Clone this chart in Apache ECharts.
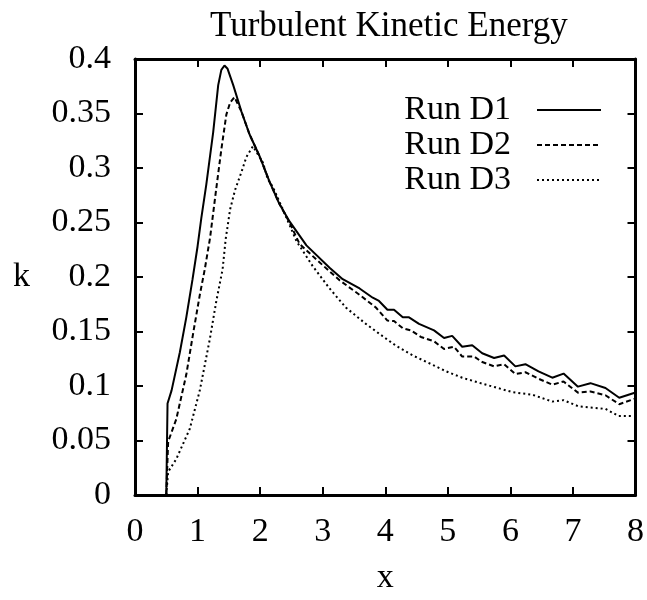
<!DOCTYPE html>
<html>
<head>
<meta charset="utf-8">
<script src="https://cdn.jsdelivr.net/npm/echarts@6/dist/echarts.min.js"></script>
<style>html,body{margin:0;padding:0;background:#fff;}#c{width:647px;height:600px;}</style>
</head>
<body>
<div id="c"></div>
<script>
const titleText = 'Turbulent Kinetic Energy';
const seriesNames = ['Run D1', 'Run D2', 'Run D3'];

const xD1 = [0.5, 0.52, 0.585, 0.717, 0.82, 0.92, 1.00, 1.06, 1.14, 1.25, 1.33, 1.38, 1.43, 1.48, 1.57, 1.70, 1.83, 1.99, 2.15, 2.30, 2.47, 2.74, 3.11, 3.32, 3.59, 3.80, 3.90, 4.035, 4.14, 4.28, 4.38, 4.54, 4.78, 4.94, 5.07, 5.23, 5.39, 5.55, 5.74, 5.90, 6.08, 6.24, 6.45, 6.67, 6.85, 7.08, 7.28, 7.52, 7.74, 8.0];
const yD1 = [0, 0.084, 0.096, 0.131, 0.163, 0.198, 0.228, 0.254, 0.285, 0.333, 0.376, 0.390, 0.394, 0.391, 0.376, 0.352, 0.331, 0.311, 0.2875, 0.268, 0.251, 0.229, 0.2085, 0.198, 0.1895, 0.181, 0.178, 0.170, 0.170, 0.163, 0.163, 0.157, 0.151, 0.144, 0.146, 0.136, 0.1374, 0.130, 0.1257, 0.128, 0.118, 0.120, 0.1135, 0.1076, 0.1114, 0.0994, 0.1026, 0.0982, 0.0892, 0.094];

const xD2 = [0.5, 0.53, 0.66, 0.82, 0.93, 1.036, 1.115, 1.20, 1.30, 1.38, 1.46, 1.52, 1.59, 1.70, 1.83, 1.99, 2.15, 2.30, 2.47, 2.63, 2.90, 3.27, 3.59, 3.85, 4.035, 4.14, 4.28, 4.41, 4.57, 4.78, 4.94, 5.10, 5.23, 5.42, 5.55, 5.74, 5.90, 6.08, 6.24, 6.45, 6.67, 6.85, 7.08, 7.28, 7.52, 7.74, 8.0];
const yD2 = [0, 0.049, 0.0696, 0.1105, 0.1485, 0.1836, 0.207, 0.236, 0.2816, 0.317, 0.349, 0.360, 0.365, 0.352, 0.331, 0.311, 0.2875, 0.268, 0.250, 0.2304, 0.216, 0.197, 0.1836, 0.172, 0.160, 0.1596, 0.153, 0.151, 0.145, 0.141, 0.134, 0.136, 0.127, 0.127, 0.122, 0.118, 0.120, 0.111, 0.1126, 0.1067, 0.1012, 0.1041, 0.0939, 0.095, 0.0915, 0.0833, 0.0886];

const xD3 = [0.5, 0.53, 0.66, 0.876, 1.036, 1.195, 1.30, 1.40, 1.45, 1.52, 1.60, 1.70, 1.78, 1.885, 2.045, 2.12, 2.20, 2.36, 2.58, 2.84, 3.11, 3.37, 3.69, 3.96, 4.17, 4.44, 4.70, 4.97, 5.23, 5.50, 5.76, 6.03, 6.35, 6.67, 6.85, 7.09, 7.52, 7.73, 7.97];
const yD3 = [0, 0.0213, 0.033, 0.0608, 0.096, 0.1427, 0.178, 0.207, 0.235, 0.262, 0.280, 0.296, 0.310, 0.320, 0.305, 0.290, 0.283, 0.2625, 0.233, 0.210, 0.1895, 0.172, 0.157, 0.1456, 0.137, 0.128, 0.121, 0.1135, 0.1076, 0.103, 0.0988, 0.0944, 0.092, 0.0857, 0.087, 0.0813, 0.079, 0.0725, 0.0725];

const xTicks = {min: 0, max: 8, interval: 1};
const yTicks = {min: 0, max: 0.4, interval: 0.05};

const FONT = '"Liberation Serif", "Times New Roman", serif';
const pairs = (xs, ys) => xs.map((x, i) => [x, ys[i]]);
const dashes = ['solid', [5, 3], [2, 3]];
const xsAll = [xD1, xD2, xD3];
const ysAll = [yD1, yD2, yD3];

const chart = echarts.init(document.getElementById('c'), null, {renderer: 'canvas'});
const axisCommon = () => ({
  axisLine: {show: true, onZero: false, lineStyle: {color: '#000', width: 3}},
  axisTick: {show: true, inside: true, length: 8, lineStyle: {color: '#000', width: 2}},
  splitLine: {show: false}
});
chart.setOption({
  backgroundColor: '#fff',
  animation: false,
  title: {
    text: titleText, left: 205, top: 4,
    textStyle: {fontFamily: FONT, fontSize: 35, fontWeight: 'normal', color: '#000'}
  },
  legend: {
    data: seriesNames, orient: 'vertical', right: 40, top: 88,
    align: 'right', itemWidth: 64, itemHeight: 14, itemGap: 1,
    itemStyle: {opacity: 0},
    textStyle: {fontFamily: FONT, fontSize: 34, color: '#000', lineHeight: 34, padding: [0, 21, 0, 0]}
  },
  grid: {left: 135, right: 10, top: 59, bottom: 84},
  xAxis: [
    Object.assign({type: 'value', position: 'bottom', min: xTicks.min, max: xTicks.max, interval: xTicks.interval,
      name: 'x', nameLocation: 'middle', nameGap: 66,
      nameTextStyle: {fontFamily: FONT, fontSize: 34, color: '#000'},
      axisLabel: {fontFamily: FONT, fontSize: 34, color: '#000', margin: 20}}, axisCommon()),
    Object.assign({type: 'value', position: 'top', min: xTicks.min, max: xTicks.max, interval: xTicks.interval,
      axisLabel: {show: false}}, axisCommon())
  ],
  yAxis: [
    Object.assign({type: 'value', position: 'left', min: yTicks.min, max: yTicks.max, interval: yTicks.interval,
      name: 'k', nameLocation: 'middle', nameGap: 105, nameRotate: 0,
      nameTextStyle: {fontFamily: FONT, fontSize: 34, color: '#000'},
      axisLabel: {fontFamily: FONT, fontSize: 34, color: '#000', margin: 24}}, axisCommon()),
    Object.assign({type: 'value', position: 'right', min: yTicks.min, max: yTicks.max, interval: yTicks.interval,
      axisLabel: {show: false}}, axisCommon())
  ],
  series: seriesNames.map((name, i) => ({
    name: name, type: 'line', xAxisIndex: 0, yAxisIndex: 0,
    data: pairs(xsAll[i], ysAll[i]),
    symbol: 'none', smooth: false,
    lineStyle: {color: '#000', width: 2, type: dashes[i]},
    itemStyle: {color: '#000'}
  }))
});
</script>
</body>
</html>
